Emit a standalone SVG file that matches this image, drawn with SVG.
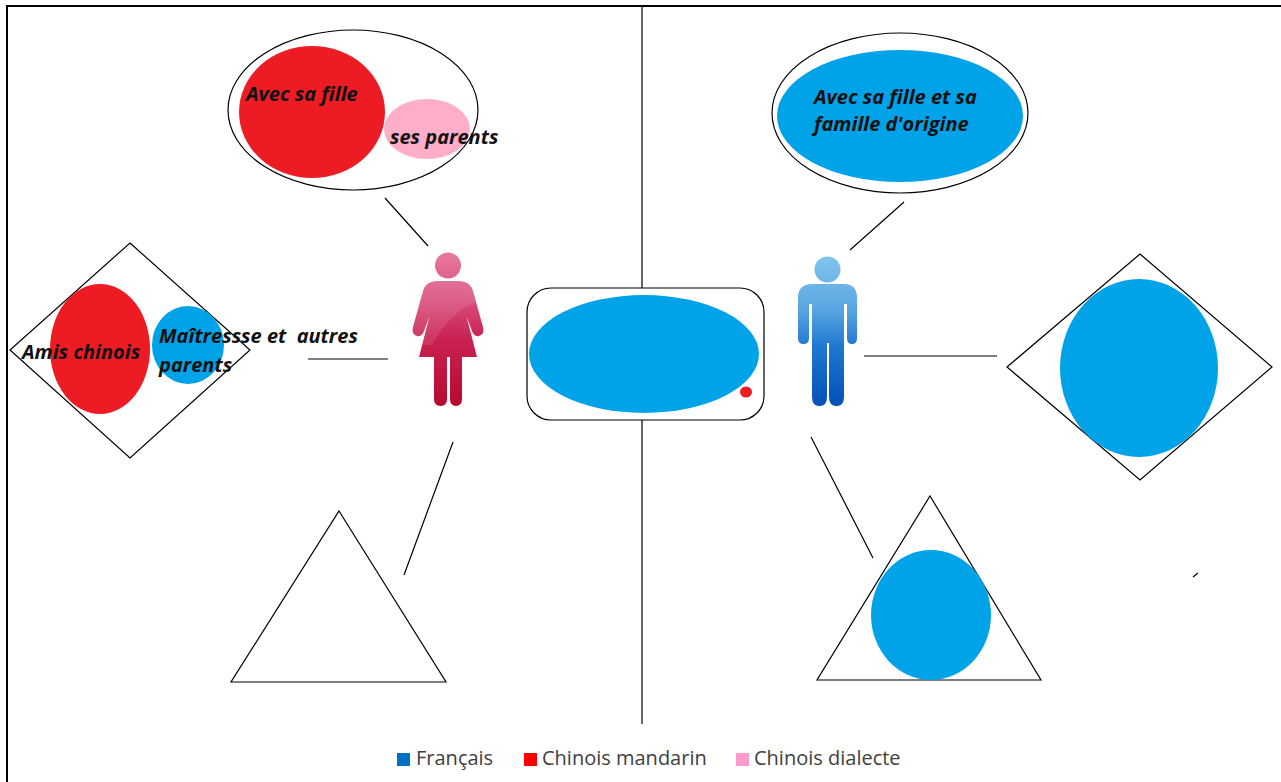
<svg xmlns="http://www.w3.org/2000/svg" width="1281" height="782" viewBox="0 0 1281 782">
<defs>
<style>
.o{fill:#fff;stroke:#000;stroke-width:1.2}
.n{fill:none;stroke:#000;stroke-width:1.2}
.b{fill:#00a2e8}.r{fill:#ed1c24}.p{fill:#ffaec9}
.t{font-family:"Open Sans","Noto Sans",sans-serif;font-size:20px;font-weight:700;font-style:italic;fill:#111;white-space:pre}
.l{font-family:"Open Sans","Noto Sans",sans-serif;font-size:20px;fill:#404040}
</style>
<linearGradient id="fg" gradientUnits="userSpaceOnUse" x1="0" y1="253" x2="0" y2="406"><stop offset="0" stop-color="#e8799f"/><stop offset="0.3" stop-color="#d9507e"/><stop offset="0.55" stop-color="#c92353"/><stop offset="1" stop-color="#b8082e"/></linearGradient>
<linearGradient id="mg" gradientUnits="userSpaceOnUse" x1="0" y1="257" x2="0" y2="406"><stop offset="0" stop-color="#80c4ec"/><stop offset="0.35" stop-color="#5aa6e2"/><stop offset="0.6" stop-color="#1f78d0"/><stop offset="1" stop-color="#0250b8"/></linearGradient>
</defs>
<rect width="1281" height="782" fill="#fff"/>
<path d="M7 782V6H1281" fill="none" stroke="#000" stroke-width="2"/>
<g id="connectors">
<path class="n" d="M642 6V288M642 420V724"/>
<path class="n" d="M385 198L428 246M308 359H388M453 442L404 575"/>
<path class="n" d="M904 202L850 250M864 356H997M811 437L873 558M1198 573L1193 577"/>
</g>
<g id="bubble-left">
<ellipse class="o" cx="353" cy="110" rx="125" ry="80"/>
<ellipse class="r" cx="312" cy="112" rx="73" ry="66"/>
<ellipse class="p" cx="427" cy="129" rx="43" ry="30"/>
<text class="t" x="246" y="101">Avec sa fille</text>
<text class="t" x="390" y="144">ses parents</text>
</g>
<g id="bubble-right">
<ellipse class="o" cx="900" cy="113" rx="128" ry="80"/>
<ellipse class="b" cx="900" cy="116" rx="123" ry="66"/>
<text class="t" x="814" y="104">Avec sa fille et sa</text>
<text class="t" x="814" y="131">famille d'origine</text>
</g>
<g id="diamond-left">
<polygon class="o" points="130,243 250,350 130,458 10,350"/>
<ellipse class="r" cx="100" cy="349" rx="50" ry="65"/>
<ellipse class="b" cx="188" cy="345" rx="36" ry="39"/>
<text class="t" x="22" y="359">Amis chinois</text>
<text class="t" x="159" y="343">Maîtressse et  autres</text>
<text class="t" x="159" y="372">parents</text>
</g>
<g id="diamond-right">
<polygon class="o" points="1140,254 1272,367 1140,480 1007,367"/>
<ellipse class="b" cx="1139" cy="368" rx="79" ry="89"/>
</g>
<g id="center">
<rect class="o" x="527" y="288" width="237" height="132" rx="24"/>
<ellipse class="b" cx="644" cy="354" rx="115" ry="59"/>
<ellipse class="r" cx="746" cy="392" rx="6" ry="5.500"/>
</g>
<g id="triangle-left"><polygon class="o" points="339,511 446,682 231,682"/></g>
<g id="triangle-right">
<polygon class="o" points="930,496 1041,680 817,680"/>
<ellipse class="b" cx="931" cy="615" rx="60" ry="65"/>
</g>
<g id="woman">
<circle cx="448" cy="265.500" r="13" fill="url(#fg)"/>
<path d="M437 281H459Q470 281 473 291L483 327Q485 334 479 336Q474 337 472 331L460 299H462L477 357H462V399Q462 406 456 406Q450 406 450 399V357H447V399Q447 406 440.500 406Q434 406 434 399V357H419L434 299H436L424 331Q422 337 417 336Q411 334 413 327L423 291Q426 281 437 281Z" fill="url(#fg)"/>
<path d="M437 281H459Q470 281 473 291L476 302Q450 312 432 345H421.500L434 299H436L424 331Q422 337 417 336Q411 334 413 327L423 291Q426 281 437 281Z" fill="#fff" opacity="0.1"/>
</g>
<g id="man">
<circle cx="827.500" cy="269.500" r="13" fill="url(#mg)"/>
<path d="M812 284H844Q857 284 857 298V338Q857 344 852 344Q847 344 847 338V304H844V397Q844 406 836.500 406Q829 406 829 397V343H827V397Q827 406 819.500 406Q812 406 812 397V304H809V338Q809 344 803.500 344Q798 344 798 338V298Q798 284 812 284Z" fill="url(#mg)"/>
</g>
<g id="legend">
<rect x="397" y="753" width="13" height="13" fill="#0070c0"/>
<text class="l" x="416" y="765">Français</text>
<rect x="524" y="753" width="13" height="13" fill="#ff0000"/>
<text class="l" x="542" y="765">Chinois mandarin</text>
<rect x="736" y="753" width="13" height="13" fill="#ff99cc"/>
<text class="l" x="754" y="765">Chinois dialecte</text>
</g>
</svg>
